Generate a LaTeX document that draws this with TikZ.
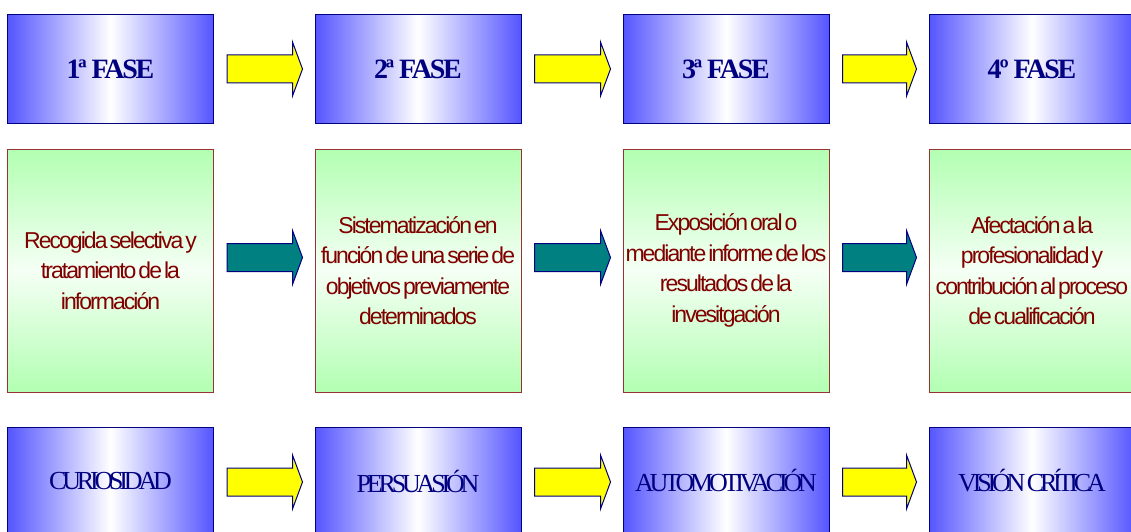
\documentclass[tikz,border=0pt]{standalone}
\usepackage{fontspec}
\setmainfont{Liberation Serif}
\newfontfamily\phasefont[LetterSpace=-8]{Liberation Serif}
\newfontfamily\bottomfont[LetterSpace=-16,WordSpace=0.6]{Liberation Serif}
\newfontfamily\midfont[LetterSpace=-8.5,WordSpace=0.45]{Liberation Sans}
\usetikzlibrary{calc}
\definecolor{boxblue}{RGB}{85,85,255}
\definecolor{navytext}{RGB}{0,0,128}
\definecolor{lgreen}{RGB}{178,255,178}
\definecolor{paleg}{RGB}{245,255,245}
\definecolor{maroontext}{RGB}{128,0,0}
\definecolor{bordred}{RGB}{150,50,50}
\definecolor{arryellow}{RGB}{255,255,0}
\definecolor{arrteal}{RGB}{0,128,128}
\tikzset{
  phase/.style={draw=navytext, line width=1pt, left color=boxblue, right color=boxblue, middle color=white,
    minimum width=206pt, minimum height=108pt, inner sep=0pt, text=navytext,
    font=\phasefont\bfseries\fontsize{28}{30}\selectfont},
  quality/.style={phase, font=\bottomfont\fontsize{26}{28}\selectfont},
  task/.style={draw=bordred, line width=1pt, top color=lgreen, bottom color=lgreen, middle color=paleg,
    minimum width=206pt, minimum height=243pt, inner sep=0pt, text=maroontext, align=center,
    font=\midfont\fontsize{23}{30.5}\selectfont},
  blockarr/.style={draw=navytext, line width=1pt, line join=miter}
}
\newcommand\blockarrow[4]{%
  \draw[blockarr, fill=#3] let \p1=(#1.east), \p2=(#2.west) in
    (\x1+13pt,\y1+#4-14pt) -- (\x2-22pt,\y1+#4-14pt) -- (\x2-22pt,\y1+#4-27pt)
    -- (\x2-12pt,\y1+#4) -- (\x2-22pt,\y1+#4+27pt) -- (\x2-22pt,\y1+#4+14pt)
    -- (\x1+13pt,\y1+#4+14pt) -- cycle;}
\begin{document}
\begin{tikzpicture}[x=1pt,y=-1pt]
\useasboundingbox (0,0) rectangle (1131,532);
\clip (0,0) rectangle (1131,532);
% top row
\node[phase] (p1) at (110.5,69) {1ª FASE};
\node[phase] (p2) at (418,69) {2ª FASE};
\node[phase] (p3) at (726,69) {3ª FASE};
\node[phase] (p4) at (1032,69) {4º FASE};
% middle row
\node[task] (t1) at (110.5,270.5) {Recogida selectiva y\\tratamiento de la\\información};
\node[task] (t2) at (418,270.5) {Sistematización en\\función de una serie de\\objetivos previamente\\determinados};
\node[task] (t3) at (726,270.5) {Exposición oral o\\mediante informe de los\\resultados de la\\invesitgación};
\node[task] (t4) at (1032,270.5) {Afectación a la\\profesionalidad y\\contribución al proceso\\de cualificación};
% bottom row
\node[quality] (q1) at (110.5,481) {CURIOSIDAD};
\node[quality] (q2) at (418,481) {PERSUASIÓN};
\node[quality] (q3) at (726,481) {AUTOMOTIVACIÓN};
\node[quality] (q4) at (1032,481) {VISIÓN CRÍTICA};
% arrows
\blockarrow{p1}{p2}{arryellow}{0pt}
\blockarrow{p2}{p3}{arryellow}{0pt}
\blockarrow{p3}{p4}{arryellow}{0pt}
\blockarrow{t1}{t2}{arrteal}{13pt}
\blockarrow{t2}{t3}{arrteal}{13pt}
\blockarrow{t3}{t4}{arrteal}{13pt}
\blockarrow{q1}{q2}{arryellow}{-1pt}
\blockarrow{q2}{q3}{arryellow}{-1pt}
\blockarrow{q3}{q4}{arryellow}{-1pt}
\end{tikzpicture}
\end{document}
